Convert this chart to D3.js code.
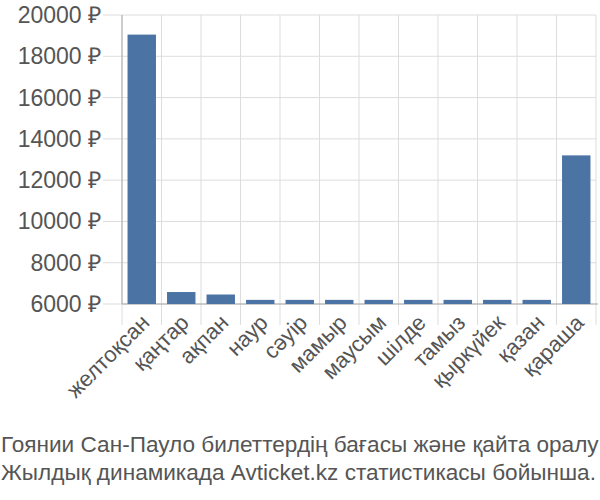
<!DOCTYPE html><html><head><meta charset="utf-8"><script src="https://cdn.jsdelivr.net/npm/d3@7"></script>
<style>body{margin:0;background:#fff;font-family:"Liberation Sans",Arial,sans-serif}</style></head><body><svg id="c" width="600" height="500"></svg>
<script>
const categories=["желтоқсан","қаңтар","ақпан","наур","сәуір","мамыр","маусым","шілде","тамыз","қыркүйек","қазан","қараша"];
const values=[19050,6580,6460,6200,6200,6200,6200,6200,6200,6200,6200,13200];
const yTicks=[6000,8000,10000,12000,14000,16000,18000,20000];
const caption=["Гоянии Сан-Пауло билеттердің бағасы және қайта оралу","Жылдық динамикада Avticket.kz статистикасы бойынша."];
const svg=d3.select("#c");
const L=122,R=596,T=15,B=304;
const x=d3.scaleBand().domain(categories).range([L,R]).paddingInner(0.28).paddingOuter(0.14);
const y=d3.scaleLinear().domain([6000,20000]).range([B,T]);
const g=svg.append("g");
g.selectAll(".hg").data(yTicks).join("line").attr("x1",103).attr("x2",R).attr("y1",d=>y(d)).attr("y2",d=>y(d)).attr("stroke","#ddd");
const step=x.step();
const vx=d3.range(categories.length+1).map(i=>L+i*step);
g.selectAll(".vg").data(vx).join("line").attr("x1",d=>d).attr("x2",d=>d).attr("y1",T).attr("y2",B+21).attr("stroke","#ddd");
g.append("line").attr("x1",L).attr("x2",L).attr("y1",T).attr("y2",B).attr("stroke","#aaa");
g.append("line").attr("x1",L).attr("x2",R+2).attr("y1",B).attr("y2",B).attr("stroke","#aaa");
g.selectAll("rect").data(values).join("rect").attr("x",(d,i)=>x(categories[i])).attr("width",x.bandwidth())
 .attr("y",d=>y(d)).attr("height",d=>B-y(d)).attr("fill","#4b74a5");
g.selectAll(".yl").data(yTicks).join("text").attr("x",101).attr("y",d=>y(d)+8).attr("text-anchor","end")
 .attr("font-size",23).attr("fill","#555").text(d=>d+" ₽");
g.selectAll(".xl").data(categories).join("text").attr("text-anchor","end").attr("font-size",22).attr("fill","#555")
 .attr("transform",d=>`translate(${x(d)+x.bandwidth()/2+9},${B+20}) rotate(-45)`).text(d=>d);
svg.selectAll(".cap").data(caption).join("text").attr("x",1).attr("y",(d,i)=>452+i*28).attr("font-size",22.6).attr("fill","#555").text(d=>d);
</script></body></html>
